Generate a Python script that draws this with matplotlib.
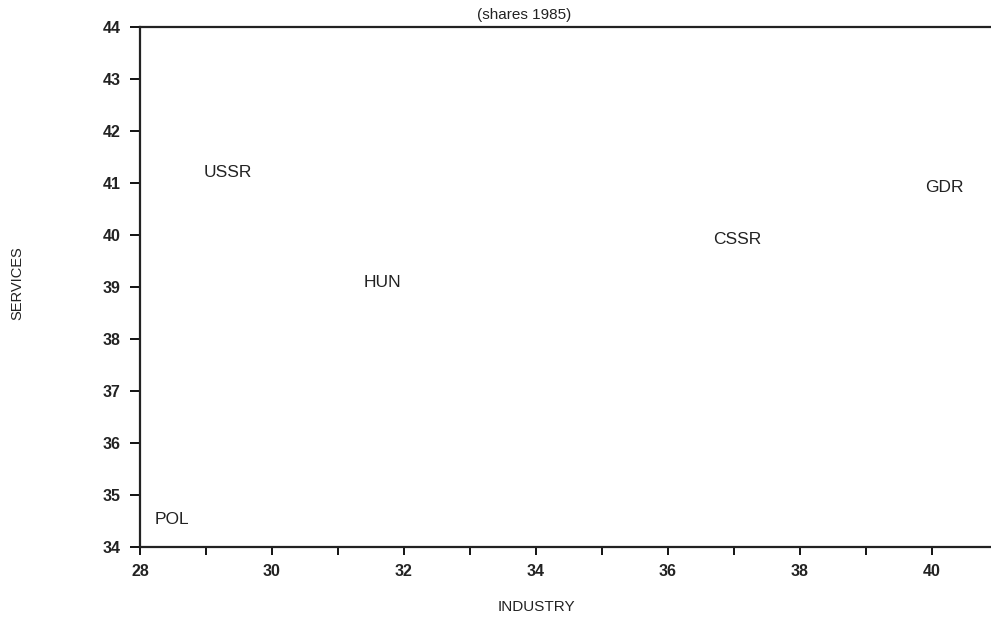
import matplotlib
matplotlib.use("Agg")
import matplotlib.pyplot as plt

# country labels placed at (industry share, services share), 1985
countries = ["USSR", "HUN", "CSSR", "GDR", "POL"]
industry = [29.33, 31.68, 37.06, 40.2, 28.48]
services = [41.2, 39.08, 39.92, 40.92, 34.52]

xticks = [28, 30, 32, 34, 36, 38, 40]
yticks = [34, 35, 36, 37, 38, 39, 40, 41, 42, 43, 44]

plt.rcParams['font.family'] = ['Liberation Sans', 'DejaVu Sans']

fig = plt.figure(figsize=(9.91, 6.18), dpi=100)
ax = fig.add_axes([0.1413, 0.1149, 0.8587, 0.8414])

for name, x, y in zip(countries, industry, services):
    ax.text(x, y, name, ha='center', va='center', fontsize=12.5, color='#222222')

ax.set_xlim(28, 40.9)
ax.set_ylim(34, 44)
ax.set_xticks(xticks)
ax.set_xticks(range(28, 41), minor=True)
ax.set_yticks(yticks)
ax.set_xticklabels([str(t) for t in xticks], fontsize=11.5, fontweight='bold', color='#222222')
ax.set_yticklabels([str(t) for t in yticks], fontsize=11.5, fontweight='bold', color='#222222')
ax.tick_params(axis='x', which='both', direction='out', length=6, width=1.3, pad=6)
ax.tick_params(axis='y', which='both', direction='out', length=7, width=1.3, pad=7)

for side in ['left', 'bottom', 'top']:
    ax.spines[side].set_linewidth(1.6)
    ax.spines[side].set_color('#222222')
ax.spines['right'].set_visible(False)

fig.text(0.529, 0.976, '(shares 1985)', ha='center', va='center', fontsize=11, color='#222222')
fig.text(0.541, 0.018, 'INDUSTRY', ha='center', va='center', fontsize=11, color='#222222')
fig.text(0.018, 0.542, 'SERVICES', ha='center', va='center', rotation=90, fontsize=10.5, color='#222222')

fig.savefig('out.png', dpi=100)
